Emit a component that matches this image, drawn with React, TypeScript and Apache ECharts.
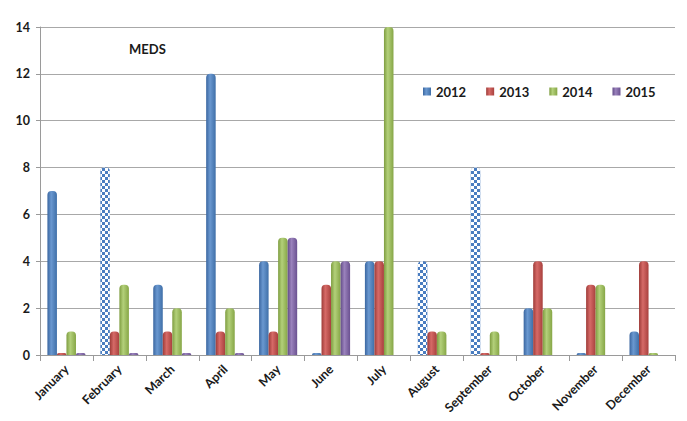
import React, { useEffect, useRef } from "react";
import * as echarts from "echarts";

const categories = ["January", "February", "March", "April", "May", "June", "July", "August", "September", "October", "November", "December"];
const values2012 = [7, 8, 3, 12, 4, 0, 4, 4, 8, 2, 0, 1];
const values2013 = [0, 1, 1, 1, 1, 3, 4, 1, 0, 4, 3, 4];
const values2014 = [1, 3, 2, 2, 5, 4, 14, 1, 1, 2, 3, 0];
const values2015 = [0, 0, 0, 0, 5, 4, null, null, null, null, null, null];
const checkered2012 = [false, true, false, false, false, false, false, true, true, false, false, false];
const yTicks = [0, 2, 4, 6, 8, 10, 12, 14];

const FONT = "Lato, 'Open Sans', sans-serif";

function cyl(base: string, light: string, dark: string) {
  return new echarts.graphic.LinearGradient(0, 0, 1, 0, [
    { offset: 0, color: dark },
    { offset: 0.4, color: light },
    { offset: 1, color: base },
  ]);
}

export default function App() {
  const ref = useRef<HTMLDivElement>(null);
  useEffect(() => {
    if (!ref.current) return;
    const chart = echarts.init(ref.current, undefined, { renderer: "svg" });
    const blue = cyl("#3F6FA8", "#6A98D0", "#3A66A0");
    const red = cyl("#A8403D", "#D66A67", "#9E3B38");
    const green = cyl("#86A646", "#B3D07A", "#7E9D40");
    const purple = cyl("#6A5190", "#9A82BC", "#634C88");
    const checkerDecal = {
      symbol: "rect",
      symbolSize: 1,
      color: "#ffffff",
      dashArrayX: [[3, 3], [0, 3, 3, 0]],
      dashArrayY: [3, 0],
      rotation: 0,
    };
    const common = {
      type: "bar" as const,
      barGap: "0%",
      barCategoryGap: "28%",
      barMinHeight: 2,
    };
    const radius = [4, 4, 0, 0];
    chart.setOption({
      animation: false,
      backgroundColor: "#ffffff",
      title: {
        text: "MEDS",
        left: 124,
        top: 37,
        textStyle: { fontFamily: FONT, fontWeight: "bold", fontSize: 13, color: "#1a1a1a" },
      },
      legend: {
        left: 418,
        top: 80,
        itemWidth: 8,
        itemHeight: 8,
        itemGap: 20,
        icon: "rect",
        textStyle: { fontFamily: FONT, fontWeight: "bold", fontSize: 13, color: "#1a1a1a" },
        data: ["2012", "2013", "2014", "2015"],
      },
      grid: { left: 40, right: 12, top: 27, bottom: 66 },
      xAxis: {
        type: "category",
        data: categories,
        axisLine: { show: true, lineStyle: { color: "#9a9a9a" } },
        axisTick: { show: true, length: 6, lineStyle: { color: "#9a9a9a" } },
        axisLabel: {
          rotate: 45,
          interval: 0,
          margin: 12,
          fontFamily: FONT,
          fontWeight: "bold",
          fontSize: 12.5,
          color: "#1a1a1a",
        },
      },
      yAxis: {
        type: "value",
        min: yTicks[0],
        max: yTicks[yTicks.length - 1],
        interval: 2,
        axisLine: { show: true, lineStyle: { color: "#9a9a9a" } },
        axisTick: { show: true, length: 4, lineStyle: { color: "#9a9a9a" } },
        splitLine: { show: true, lineStyle: { color: "#a8a8a8", width: 1 } },
        axisLabel: {
          margin: 10,
          fontFamily: FONT,
          fontWeight: "bold",
          fontSize: 12.5,
          color: "#1a1a1a",
        },
      },
      series: [
        {
          ...common,
          name: "2012",
          itemStyle: { color: blue, borderRadius: radius },
          data: values2012.map((v, i) =>
            checkered2012[i]
              ? { value: v, itemStyle: { color: "#4A7DC0", decal: checkerDecal } }
              : v
          ),
        },
        { ...common, name: "2013", itemStyle: { color: red, borderRadius: radius }, data: values2013 },
        { ...common, name: "2014", itemStyle: { color: green, borderRadius: radius }, data: values2014 },
        { ...common, name: "2015", itemStyle: { color: purple, borderRadius: radius }, data: values2015 },
      ],
      color: ["#4F81BD", "#C0504D", "#9BBB59", "#8064A2"],
    });
    return () => chart.dispose();
  }, []);
  return <div ref={ref} style={{ width: 687, height: 421, position: "absolute", left: 0, top: 0 }} />;
}
